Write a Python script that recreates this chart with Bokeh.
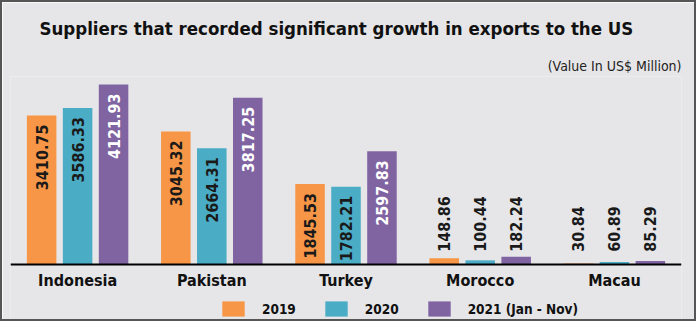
from bokeh.plotting import figure
from bokeh.models import ColumnDataSource, Legend, LegendItem, Title, Range1d, FactorRange
from bokeh.transform import dodge
from bokeh.core.properties import value
from bokeh.embed import file_html
from bokeh.resources import INLINE
import math

countries = ["Indonesia", "Pakistan", "Turkey", "Morocco", "Macau"]
years = ["2019", "2020", "2021 (Jan - Nov)"]
v2019 = [3410.75, 3045.32, 1845.53, 148.86, 30.84]
v2020 = [3586.33, 2664.31, 1782.21, 100.44, 60.89]
v2021 = [4121.93, 3817.25, 2597.83, 182.24, 85.29]

colors = ["#f79646", "#4bacc6", "#8064a2"]
label_colors = ["#1a1a1a", "#1a1a1a", "#ffffff"]
offsets = [-0.268, 0.0, 0.268]
FONT = "DejaVu Sans Condensed"
BG = "#e6e6e8"

# frame runs to the bottom of the canvas; the category axis baseline sits at y=0
p = figure(width=696, height=321, x_range=FactorRange(*countries, range_padding=0),
           y_range=Range1d(-1344, 4305), output_backend="svg", toolbar_location=None,
           y_axis_location=None, min_border_left=8, min_border_right=17,
           min_border_top=73, min_border_bottom=0)
p.styles = {"border": "2px solid #555555"}
p.background_fill_color = BG
p.border_fill_color = BG
p.outline_line_color = None
p.xgrid.grid_line_color = None
p.ygrid.grid_line_color = None

ax = p.xaxis[0]
ax.fixed_location = 0
ax.axis_line_color = "#000000"
ax.axis_line_width = 2
ax.major_tick_line_color = None
ax.minor_tick_line_color = None
ax.major_label_text_font = FONT
ax.major_label_text_font_style = "bold"
ax.major_label_text_font_size = "16px"
ax.major_label_text_color = "#111111"
ax.major_label_standoff = 0

items = []
for vals, col, lcol, off, yr in zip([v2019, v2020, v2021], colors, label_colors, offsets, years):
    src = ColumnDataSource(dict(x=countries, top=vals))
    r = p.vbar(x=dodge("x", off, range=p.x_range), top="top", bottom=0, width=0.22, source=src,
               fill_color=col, line_color=None)
    items.append(LegendItem(label=yr, renderers=[r]))
    inside = [i for i, v in enumerate(vals) if v >= 1000]
    outside = [i for i, v in enumerate(vals) if v < 1000]
    s_in = ColumnDataSource(dict(x=[countries[i] for i in inside], y=[vals[i] for i in inside],
                                 t=[f"{vals[i]:.2f}" for i in inside]))
    s_out = ColumnDataSource(dict(x=[countries[i] for i in outside], y=[0 for i in outside],
                                  t=[f"{vals[i]:.2f}" for i in outside]))
    p.text(x=dodge("x", off, range=p.x_range), y="y", text="t", source=s_in, angle=math.pi / 2,
           text_align="right", text_baseline="middle", y_offset=9, text_color=lcol,
           text_font=value(FONT), text_font_size="16px", text_font_style="bold")
    p.text(x=dodge("x", off, range=p.x_range), y="y", text="t", source=s_out, angle=math.pi / 2,
           text_align="left", text_baseline="middle", y_offset=-13, text_color="#1a1a1a",
           text_font=value(FONT), text_font_size="16px", text_font_style="bold")

legend = Legend(items=items, orientation="horizontal", location=(209, 5),
                glyph_width=28, glyph_height=19, label_standoff=15, spacing=26,
                label_text_font=FONT, label_text_font_style="bold", label_text_font_size="13.5px",
                label_text_color="#111111", background_fill_alpha=0, border_line_color=None,
                padding=0, margin=0)
p.add_layout(legend, "center")

sub = Title(text="(Value In US$ Million)", align="right", text_font=FONT,
            text_font_style="normal", text_font_size="14px", text_color="#222222", standoff=6)
p.add_layout(sub, "above")
title = Title(text="Suppliers that recorded significant growth in exports to the US", align="left",
              offset=29, text_font=FONT, text_font_style="bold", text_font_size="18.5px",
              text_color="#111111", standoff=27)
p.add_layout(title, "above")

open("out.html", "w").write(file_html(p, INLINE))
